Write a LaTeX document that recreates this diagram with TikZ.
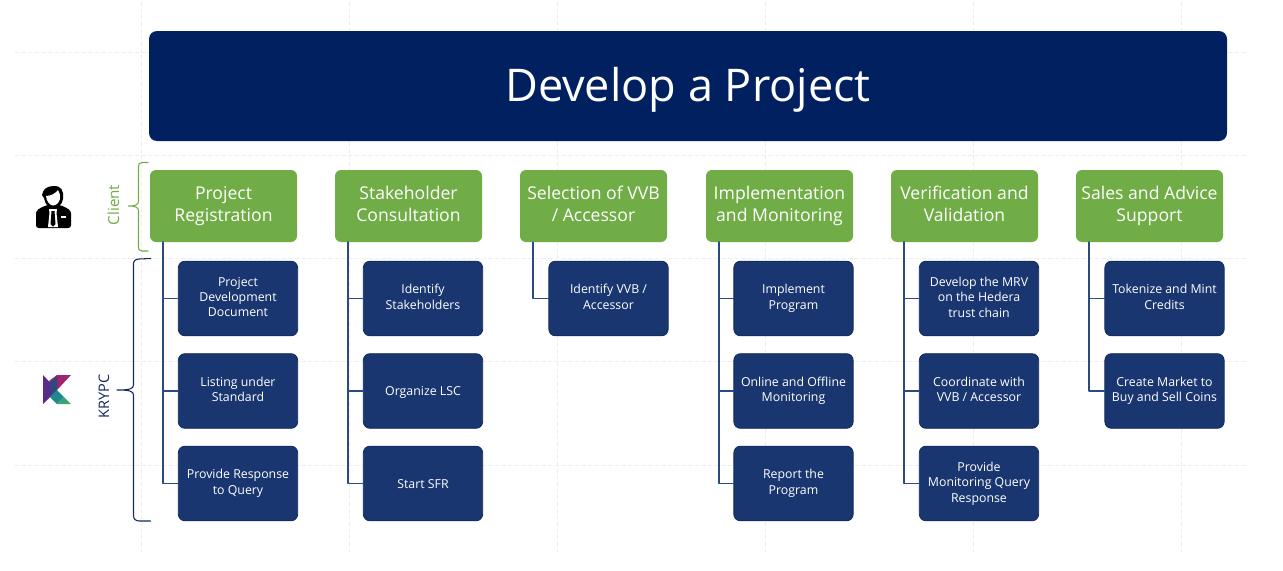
\documentclass[tikz,border=0pt]{standalone}
\usepackage{fontspec}
\setmainfont{Open Sans}
\definecolor{TitleBlue}{HTML}{002060}
\definecolor{StepGreen}{HTML}{70AD47}
\definecolor{TaskBlue}{HTML}{1A3670}
\definecolor{TaskEdge}{HTML}{122A5C}
\definecolor{TrunkBlue}{HTML}{2A4A80}
\definecolor{GridGrey}{HTML}{EEEEEE}
\definecolor{LogoPurple}{HTML}{5A2A8A}
\definecolor{LogoMagenta}{HTML}{A0246E}
\definecolor{LogoNavy}{HTML}{2B4A80}
\definecolor{LogoTeal}{HTML}{1F8A8A}
\definecolor{LogoGreen}{HTML}{3BA272}
\tikzset{
    titlebox/.style={fill=TitleBlue,text=white,rounded corners=6pt,inner sep=0pt,
        minimum width=808.5pt,minimum height=82.5pt,
        execute at begin node={\rule{0pt}{.92em}},
        font=\fontsize{33.8}{40}\selectfont},
    stepbox/.style={fill=StepGreen,text=white,rounded corners=4.5pt,inner sep=0pt,align=center,
        minimum width=110.25pt,minimum height=54pt,
        execute at begin node={\rule{0pt}{1em}},execute at end node={\rule[-.25em]{0pt}{.25em}},
        font=\fontsize{13.2}{16.5}\selectfont},
    taskbox/.style={fill=TaskBlue,draw=TaskEdge,line width=0.6pt,text=white,rounded corners=5pt,inner sep=0pt,align=center,
        minimum width=89.5pt,minimum height=56pt,
        execute at begin node={\rule{0pt}{1.05em}},execute at end node={\rule[-.25em]{0pt}{.25em}},
        font=\fontsize{9.25}{11.6}\selectfont},
    trunk/.style={draw=TrunkBlue,line width=1.1pt},
    gridline/.style={draw=GridGrey,line width=0.5pt,densely dashed},
}

\begin{document}
\begin{tikzpicture}[line cap=round,line join=round,x=0.75pt,y=-0.75pt]
    \useasboundingbox[fill=white] (0,0) rectangle (1283,571);

    % grid behind everything
    \foreach \gy in {52,155,258,361,465}
        \draw[gridline] (15,\gy) -- (1248,\gy);
    \foreach \gx in {141,349,557,765,973,1181}
        \draw[gridline] (\gx,2) -- (\gx,552);

    \node[titlebox] (title) at (688,86) {Develop a Project};

    % client steps
    \node[stepbox] (reg) at (223.5,206) {Project\\Registration};
    \node[stepbox] (cons) at (408.5,206) {Stakeholder\\Consultation};
    \node[stepbox] (vvb) at (593.5,206) {Selection of VVB\\/ Accessor};
    \node[stepbox] (impl) at (779.5,206) {Implementation\\and Monitoring};
    \node[stepbox] (veri) at (964.5,206) {Verification and\\Validation};
    \node[stepbox] (sales) at (1149.5,206) {Sales and Advice\\Support};

    % krypc tasks
    \node[taskbox] (doc) at (238,298.5) {Project\\Development\\Document};
    \node[taskbox] (list) at (238,391) {Listing under\\Standard};
    \node[taskbox] (resp) at (238,483.5) {Provide Response\\to Query};

    \node[taskbox] (ident) at (423,298.5) {Identify\\Stakeholders};
    \node[taskbox] (lsc) at (423,391) {Organize LSC};
    \node[taskbox] (sfr) at (423,483.5) {Start SFR};

    \node[taskbox] (acc) at (608.5,298.5) {Identify VVB /\\Accessor};

    \node[taskbox] (prog) at (793.5,298.5) {Implement\\Program};
    \node[taskbox] (moni) at (793.5,391) {Online and Offline\\Monitoring};
    \node[taskbox] (rep) at (793.5,483.5) {Report the\\Program};

    \node[taskbox] (mrv) at (979,298.5) {Develop the MRV\\on the Hedera\\trust chain};
    \node[taskbox] (coord) at (979,391) {Coordinate with\\VVB / Accessor};
    \node[taskbox] (query) at (979,483.5) {Provide\\Monitoring Query\\Response};

    \node[taskbox] (mint) at (1164.5,298.5) {Tokenize and Mint\\Credits};
    \node[taskbox] (coins) at (1164.5,391) {Create Market to\\Buy and Sell Coins};

    % trunks
    \foreach \parent/\kids in {reg/{doc,list,resp},cons/{ident,lsc,sfr},vvb/{acc},impl/{prog,moni,rep},veri/{mrv,coord,query},sales/{mint,coins}}
        \foreach \kid in \kids
            \draw[trunk] ([xshift=10pt]\parent.south west) |- (\kid.west);

    % braces
    \draw[StepGreen,line width=0.8pt] (148,162.5) -- (142,162.5) .. controls (139,162.5) and (138.5,164) .. (138.5,167)
        -- (138.5,201) .. controls (138.5,205) and (135,206) .. (128.5,206)
        .. controls (135,206) and (138.5,207) .. (138.5,211) -- (138.5,246)
        .. controls (138.5,249.5) and (139,251) .. (142,251) -- (148,251);
    \draw[TaskEdge,line width=0.8pt] (150.5,258.5) -- (139,259) .. controls (135.5,259.5) and (133.5,260.5) .. (133.5,264)
        -- (133.5,385) .. controls (133.5,389) and (129,390) .. (117,390)
        .. controls (129,390) and (133.5,391) .. (133.5,395) -- (133.5,515)
        .. controls (133.5,519.5) and (135.5,520.5) .. (139,521) -- (150.5,521);
    \node[rotate=90,text=StepGreen,font=\fontsize{11.4}{13}\selectfont] (client) at (113.5,205) {Client};
    \node[rotate=90,text=TaskEdge,font=\fontsize{10.9}{13}\selectfont] (krypc) at (104,396.5) {KRYPC};

    % client icon
    \fill[black,rounded corners=2pt] (36,228) -- (36,216) .. controls (36,210) and (40,208) .. (47,205)
        -- (60,205) .. controls (67,208) and (71,210) .. (71,216) -- (71,228) -- cycle;
    \fill[black] (42,195) .. controls (43,189) and (47,186) .. (54,186) .. controls (61,186) and (64,190) .. (63,199)
        .. controls (62,205) and (58,208) .. (53,208) .. controls (48,208) and (45,204) .. (44,198) -- cycle;
    \fill[white] (46,196) .. controls (50,196) and (55,194) .. (58,190) .. controls (60,193) and (60.5,196) .. (60,199)
        .. controls (59,203) and (56,205.5) .. (53,205.5) .. controls (49.5,205.5) and (46.5,201) .. (46,196) -- cycle;
    \fill[white] (49,209) -- (57,209) -- (56.5,213) -- (58,227) -- (48,227) -- (49.5,213) -- cycle;
    \fill[black] (51.5,211) -- (54.5,211) -- (55.5,224) -- (53,226.5) -- (50.5,224) -- cycle;
    \fill[white] (61,216) rectangle (66,217.5);

    % krypc logo
    \fill[LogoPurple] (43,375) -- (57,390) -- (43,404) -- cycle;
    \fill[LogoMagenta] (49,381) -- (57,375) -- (71,375) -- (57,390) -- cycle;
    \fill[LogoNavy] (50,382.5) -- (57,375.5) -- (57,390) -- (51,396) -- cycle;
    \fill[LogoTeal] (57,390) -- (64,397) -- (57,404) -- (50,397) -- cycle;
    \fill[LogoGreen] (64,397) -- (71,404) -- (57,404) -- cycle;
\end{tikzpicture}
\end{document}
